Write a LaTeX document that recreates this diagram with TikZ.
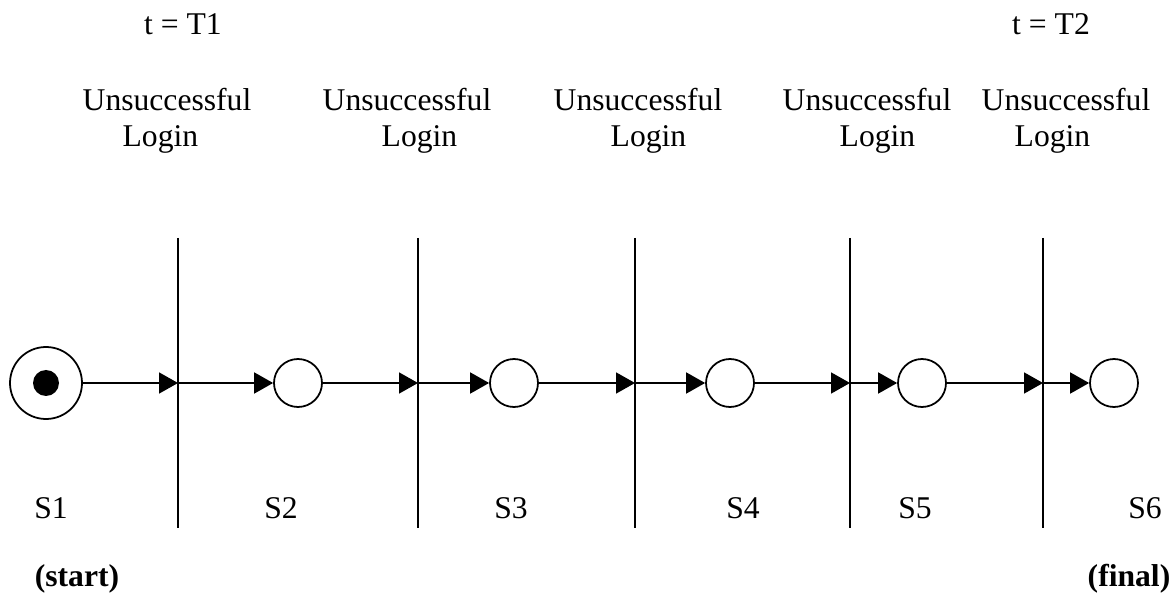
\documentclass[tikz,border=0pt]{standalone}
\usepackage{fontspec}
\setmainfont{Liberation Serif}
\usetikzlibrary{arrows.meta}

\tikzset{
  txt/.style={inner sep=0pt, font=\fontsize{18}{20.4}\selectfont},
  login/.style={txt, align=left},
  state/.style={draw, circle, line width=1pt, minimum size=9.6mm, inner sep=0pt},
  startstate/.style={state, minimum size=14.4mm},
  token/.style={circle, fill=black, minimum size=5.2mm, inner sep=0pt},
  flow/.style={line width=1pt, -{Triangle[length=3.8mm, width=4.2mm]}},
  bar/.style={line width=1pt}
}

\begin{document}
\begin{tikzpicture}[x=0.2mm, y=-0.2mm]

%% Page frame
\useasboundingbox (0,0) rectangle (1175,593);

%% Time marks
\node[txt] (t1) at (183,24) {t = T1};
\node[txt] (t2) at (1051,24) {t = T2};

%% Transitions
\node[login] (l1) at (167,121) {Unsuccessful\\\hspace*{8mm}Login};
\node[login] (l2) at (407,121) {Unsuccessful\\\hspace*{11.8mm}Login};
\node[login] (l3) at (638,121) {Unsuccessful\\\hspace*{11.4mm}Login};
\node[login] (l4) at (867,121) {Unsuccessful\\\hspace*{11.4mm}Login};
\node[login] (l5) at (1066,121) {Unsuccessful\\\hspace*{6.6mm}Login};

%% States
\node[startstate] (s1) at (46,383) {};
\node[token] (s1dot) at (s1) {};
\node[state] (s2) at (298,383) {};
\node[state] (s3) at (514,383) {};
\node[state] (s4) at (730,383) {};
\node[state] (s5) at (922,383) {};
\node[state] (s6) at (1114,383) {};

%% Bars
\coordinate (b1) at (178,383);
\coordinate (b2) at (418,383);
\coordinate (b3) at (635,383);
\coordinate (b4) at (850,383);
\coordinate (b5) at (1043,383);
\draw[bar] (b1) ++(0,-145) -- ++(0,290);
\draw[bar] (b2) ++(0,-145) -- ++(0,290);
\draw[bar] (b3) ++(0,-145) -- ++(0,290);
\draw[bar] (b4) ++(0,-145) -- ++(0,290);
\draw[bar] (b5) ++(0,-145) -- ++(0,290);

%% Arcs
\draw[flow] (s1) -- (b1);
\draw[flow] (b1) -- (s2);
\draw[flow] (s2) -- (b2);
\draw[flow] (b2) -- (s3);
\draw[flow] (s3) -- (b3);
\draw[flow] (b3) -- (s4);
\draw[flow] (s4) -- (b4);
\draw[flow] (b4) -- (s5);
\draw[flow] (s5) -- (b5);
\draw[flow] (b5) -- (s6);

%% State names
\node[txt] (n1) at (51,508) {S1};
\node[txt] (n2) at (281,508) {S2};
\node[txt] (n3) at (511,508) {S3};
\node[txt] (n4) at (743,508) {S4};
\node[txt] (n5) at (915,508) {S5};
\node[txt] (n6) at (1145,508) {S6};

\node[txt, font=\fontsize{18}{20.4}\selectfont\bfseries] (start) at (77,579) {(start)};
\node[txt, font=\fontsize{18}{20.4}\selectfont\bfseries] (final) at (1129,579) {(final)};

\end{tikzpicture}
\end{document}
